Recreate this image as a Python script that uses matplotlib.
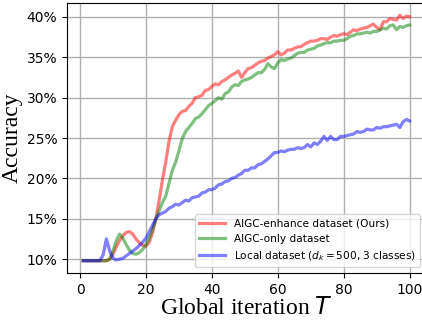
import matplotlib
matplotlib.use('Agg')
import matplotlib.pyplot as plt
from matplotlib.ticker import PercentFormatter

# accuracy (%) per global iteration
iters = list(range(1, 101))
acc_enhance = [9.8, 9.8, 9.8, 9.8, 9.8, 9.8, 9.8, 9.8, 10.0, 10.6,
               11.5, 12.3, 12.9, 13.3, 13.4, 13.1, 12.5, 12.0, 11.7, 11.6,
               12.1, 13.3, 15.0, 17.3, 19.8, 22.0, 24.6, 26.4, 27.2, 27.9,
               28.3, 28.4, 28.9, 29.3, 30.0, 30.1, 30.3, 30.9, 31.0, 31.4,
               31.7, 31.6, 32.0, 32.2, 32.5, 32.8, 33.0, 33.3, 32.5, 33.1,
               33.6, 33.7, 34.0, 34.3, 34.5, 34.6, 34.9, 35.1, 35.3, 35.7,
               35.3, 35.5, 35.9, 35.9, 36.1, 36.3, 36.3, 36.6, 36.8, 37.0,
               37.0, 37.1, 37.3, 37.3, 37.2, 37.5, 37.7, 37.6, 37.8, 37.9,
               37.8, 38.1, 38.4, 38.3, 38.5, 38.6, 38.7, 38.9, 39.1, 38.7,
               38.4, 39.4, 39.4, 39.8, 39.7, 39.6, 40.2, 39.8, 40.1, 40.0]
acc_aigc_only = [9.8, 9.8, 9.8, 9.8, 9.8, 9.8, 9.8, 9.8, 10.0, 11.0,
                 12.3, 13.1, 12.6, 11.8, 11.1, 10.7, 10.6, 10.8, 11.2, 11.8,
                 12.6, 13.6, 14.9, 16.0, 17.0, 17.8, 19.4, 21.0, 22.0, 23.4,
                 24.9, 25.8, 26.3, 26.8, 27.4, 27.6, 28.0, 28.5, 29.0, 29.3,
                 29.6, 30.0, 29.8, 30.5, 30.7, 31.3, 31.6, 31.5, 32.0, 32.2,
                 32.3, 32.5, 32.8, 33.1, 33.1, 33.5, 34.2, 33.8, 33.6, 34.3,
                 34.7, 34.6, 34.8, 34.9, 35.2, 35.5, 35.6, 35.6, 35.9, 36.0,
                 36.1, 36.4, 36.5, 36.7, 36.8, 36.8, 37.0, 37.0, 37.1, 37.1,
                 37.3, 37.6, 37.7, 37.9, 37.9, 38.0, 38.1, 38.0, 38.2, 38.2,
                 38.4, 38.6, 38.5, 38.9, 39.0, 38.4, 38.8, 38.7, 38.9, 39.0]
acc_local = [9.8, 9.8, 9.8, 9.8, 9.8, 9.8, 10.5, 12.5, 11.0, 10.1,
             9.9, 10.0, 10.1, 10.4, 10.7, 11.0, 11.3, 11.7, 12.1, 12.6,
             13.4, 14.2, 15.0, 15.5, 15.7, 15.9, 16.3, 16.5, 16.8, 16.7,
             17.0, 17.3, 17.2, 17.6, 17.7, 17.8, 18.2, 18.3, 18.6, 18.6,
             18.8, 19.2, 19.3, 19.6, 19.7, 20.0, 20.1, 20.4, 20.6, 21.0,
             21.0, 21.3, 21.3, 21.7, 21.8, 22.1, 22.4, 22.8, 23.2, 23.2,
             23.4, 23.3, 23.5, 23.6, 23.6, 23.8, 23.7, 23.8, 24.2, 23.9,
             24.4, 24.2, 24.6, 25.2, 24.7, 25.2, 24.8, 24.8, 25.2, 25.2,
             25.3, 25.4, 25.5, 25.8, 25.7, 25.8, 26.1, 26.0, 26.0, 26.3,
             26.2, 26.4, 26.4, 26.5, 26.6, 26.7, 26.3, 27.0, 27.3, 27.1]
labels = ['AIGC-enhance dataset (Ours)',
          'AIGC-only dataset',
          r'Local dataset ($d_k=500$, 3 classes)']

fig = plt.figure(figsize=(4.22, 3.24), dpi=100)
ax = fig.add_axes([67/422, 51/324, 359/422, 270/324])

ax.plot(iters, acc_enhance, color='r', alpha=0.5, lw=2.3, label=labels[0])
ax.plot(iters, acc_aigc_only, color='g', alpha=0.5, lw=2.3, label=labels[1])
ax.plot(iters, acc_local, color='b', alpha=0.5, lw=2.3, label=labels[2])

ax.set_xlim(-3.95, 104.95)
ax.set_xticks([0, 20, 40, 60, 80, 100])
ax.set_yticks([10, 15, 20, 25, 30, 35, 40])
ax.yaxis.set_major_formatter(PercentFormatter(100, decimals=0))
ax.tick_params(labelsize=10)
ax.grid(True, color='#b0b0b0', lw=1.0)
ax.set_axisbelow(True)

ax.set_xlabel('Global iteration $T$', family='Liberation Serif', fontsize=17, labelpad=0)
ax.set_ylabel('Accuracy', family='Liberation Serif', fontsize=17, labelpad=3)

fig.legend(loc='lower right', bbox_to_anchor=(420/422, 57/324),
           bbox_transform=fig.transFigure, borderaxespad=0, fontsize=7.6,
           handlelength=2.5)

fig.savefig('out.png', dpi=100)
